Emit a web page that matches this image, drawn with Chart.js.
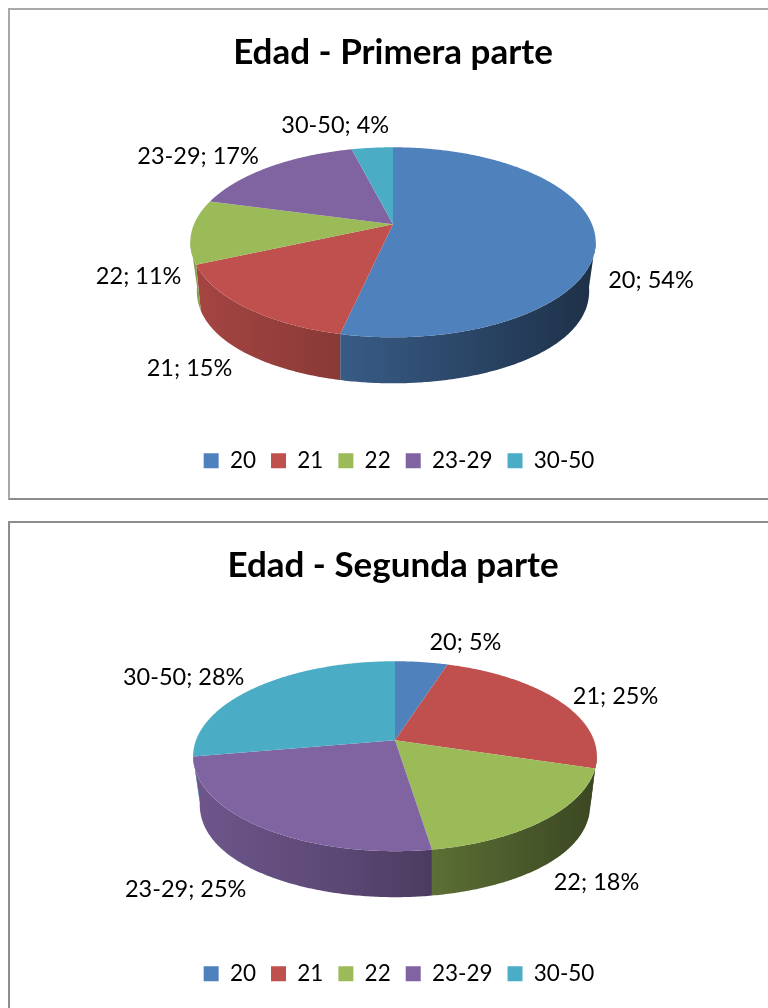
<!DOCTYPE html>
<html><head><meta charset="utf-8">
<script src="https://cdn.jsdelivr.net/npm/chart.js@4/dist/chart.umd.min.js"></script>
<style>
html,body{margin:0;padding:0;background:#fff;overflow:hidden;width:768px;height:1008px}
.box{position:absolute;left:8px;width:800px;box-sizing:border-box;border:2px solid #a9a9a9;background:#fff}
#b1{top:8px;height:492px;border-bottom-color:#8c8c8c}
#b2{top:521px;height:520px;border-color:#8c8c8c}
canvas{display:block}
</style></head><body>
<div class="box" id="b1"><canvas id="c1" width="766" height="488"></canvas></div>
<div class="box" id="b2"><canvas id="c2" width="766" height="488"></canvas></div>
<script>
const categories = ['20','21','22','23-29','30-50'];
const valuesPrimera = [54,15,11,17,4];
const valuesSegunda = [5,25,18,25,28];
const sliceColors = ['#4f81bd','#c0504d','#9bbb59','#8064a2','#4bacc6'];
const FONT = 'Lato, Carlito, Calibri, sans-serif';

function shade(hex,f){
  const n=parseInt(hex.slice(1),16);
  return `rgb(${Math.round((n>>16&255)*f)},${Math.round((n>>8&255)*f)},${Math.round((n&255)*f)})`;
}

const pie3d = {
  id:'pie3d',
  afterLayout(chart,args,o){
    chart.legend.left += o.legendShift; chart.legend.right += o.legendShift;
  },
  beforeDatasetsDraw(chart,args,o){
    const ctx=chart.ctx, arcs=chart.getDatasetMeta(0).data;
    const proj=(arc,a)=>{
      const u=Math.cos(a), v=Math.sin(a), w=1-o.k*v;
      return [arc.x+o.shiftX+o.rx*u/w, arc.y+o.shiftY+o.ry*v/w];
    };
    const samples=arc=>{
      const n=Math.max(2,Math.ceil((arc.endAngle-arc.startAngle)/0.01)), out=[];
      for(let i=0;i<=n;i++) out.push(arc.startAngle+(arc.endAngle-arc.startAngle)*i/n);
      return out;
    };
    // side wall: the lower rim narrows towards the left and right extremes (perspective)
    arcs.forEach(arc=>{
      const col=arc.options.backgroundColor;
      const front=samples(arc).filter(a=>Math.sin(a)>=o.k-0.02);
      if(front.length<2) return;
      const cx=arc.x+o.shiftX;
      const g=ctx.createLinearGradient(cx-o.rx,0,cx+o.rx,0);
      g.addColorStop(0,shade(col,0.86));
      g.addColorStop(0.35,shade(col,0.72));
      g.addColorStop(1,shade(col,0.38));
      ctx.beginPath();
      front.forEach((a,i)=>{const p=proj(arc,a); i?ctx.lineTo(p[0],p[1]):ctx.moveTo(p[0],p[1]);});
      front.slice().reverse().forEach(a=>{
        const p=proj(arc,a), squeeze=1-0.035*Math.pow(Math.cos(a),4);
        ctx.lineTo(cx+(p[0]-cx)*squeeze,p[1]+o.depth);
      });
      ctx.closePath();
      ctx.fillStyle=g; ctx.fill();
    });
    // top face
    arcs.forEach(arc=>{
      ctx.beginPath();
      ctx.moveTo(arc.x+o.shiftX,arc.y+o.shiftY);
      samples(arc).forEach(a=>{const p=proj(arc,a); ctx.lineTo(p[0],p[1]);});
      ctx.closePath();
      ctx.fillStyle=arc.options.backgroundColor; ctx.fill();
    });
    // labels
    ctx.font='23.5px '+FONT; ctx.fillStyle='#000'; ctx.textAlign='center'; ctx.textBaseline='middle';
    const vals=chart.data.datasets[0].data;
    arcs.forEach((arc,i)=>{
      const p=proj(arc,(arc.startAngle+arc.endAngle)/2);
      ctx.fillText(chart.data.labels[i]+'; '+vals[i]+'%',p[0]+o.labelOffsets[i][0],p[1]+o.labelOffsets[i][1]);
    });
    return false;
  }
};

function makeChart(id,title,values,o){
  return new Chart(document.getElementById(id),{
    type:'pie',
    data:{labels:categories,datasets:[{data:values,backgroundColor:sliceColors,borderWidth:0}]},
    plugins:[pie3d],
    options:{
      responsive:false,animation:false,
      layout:{padding:{top:22,bottom:16}},
      plugins:{
        title:{display:true,text:title,color:'#000',font:{family:FONT,size:35,weight:'bold'},padding:{top:0,bottom:10}},
        legend:{position:'bottom',labels:{color:'#000',font:{family:FONT,size:22.5},boxWidth:15,boxHeight:15,padding:15}},
        tooltip:{enabled:false},
        pie3d:o
      }
    }
  });
}
makeChart('c1','Edad - Primera parte',valuesPrimera,{
  k:0.19,rx:199,ry:91.6,depth:46,shiftX:0,shiftY:-35,legendShift:6,
  labelOffsets:[[56,46],[-56,61],[-53,45],[-72,-10],[-37,-22]]
});
makeChart('c2','Edad - Segunda parte',valuesSegunda,{
  k:0.168,rx:199,ry:92.3,depth:46,shiftX:2,shiftY:-32,legendShift:6,
  labelOffsets:[[44,-20],[57,-4],[52,62],[-75,62],[-74,-9]]
});
</script>
</body></html>
